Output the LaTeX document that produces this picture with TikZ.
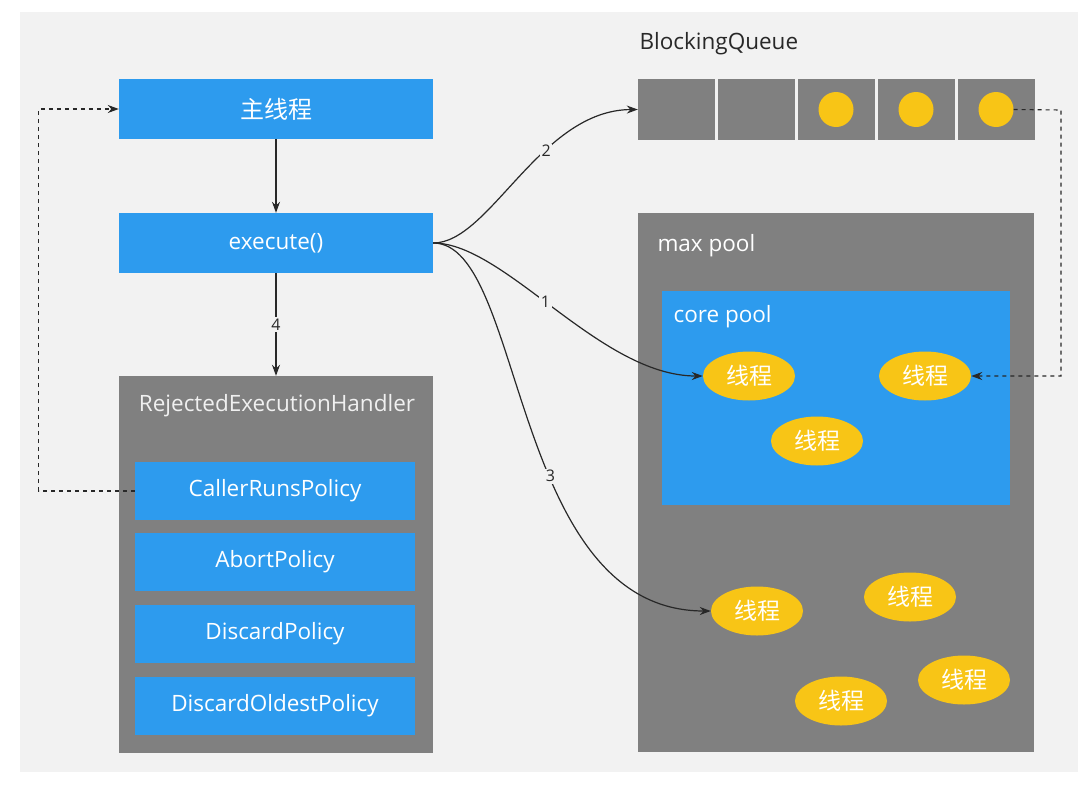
\documentclass[tikz,border=0pt]{standalone}
\usepackage{fontspec}
\setmainfont{Open Sans}
\newfontfamily\cjk{Noto Sans CJK SC}
\usetikzlibrary{arrows.meta,shapes.geometric,positioning,calc}

\definecolor{panelbg}{RGB}{242,242,242}
\definecolor{boxblue}{RGB}{45,155,238}
\definecolor{boxgray}{RGB}{128,128,128}
\definecolor{threadyellow}{RGB}{248,197,22}
\definecolor{linegray}{RGB}{40,40,40}

\begin{document}
\begin{tikzpicture}[x=1pt,y=-1pt,>={Stealth[length=11pt,width=8pt]},
    every node/.style={font=\fontsize{22.5}{27}\selectfont},
    bluebox/.style={fill=boxblue,text=white,inner sep=0pt,
        minimum width=314pt,minimum height=60pt},
    policybox/.style={fill=boxblue,text=white,inner sep=0pt,
        minimum width=280pt,minimum height=58pt},
    graybox/.style={fill=boxgray,inner sep=0pt},
    qcell/.style={fill=boxgray,inner sep=0pt,
        minimum width=77pt,minimum height=61pt},
    qdot/.style={circle,fill=threadyellow,inner sep=0pt,minimum size=35pt},
    thread/.style={ellipse,fill=threadyellow,text=white,inner sep=0pt,
        minimum width=92pt,minimum height=49pt,
        font=\cjk\fontsize{23}{27}\selectfont},
    flow/.style={->,line width=1.2pt,draw=linegray},
    back/.style={->,line width=1.1pt,draw=linegray,dash pattern=on 4pt off 4pt},
    steplabel/.style={fill=panelbg,text=linegray,inner sep=1.5pt,
        font=\fontsize{16}{19}\selectfont}]

  % Page and panel.
  \fill[white] (0,0) rectangle (1092,787);
  \fill[panelbg] (20,12) rectangle (1078,772);

  % Left column.
  \node[bluebox,font=\cjk\fontsize{24}{28}\selectfont] (mainthread)
      at (276,109) {主线程};
  \node[bluebox] (exec) at (276,243) {execute()};
  \node[graybox,minimum width=314pt,minimum height=377pt] (handler)
      at (276,564.5) {};
  \node[text=white!94!black] (handlertitle) at (277,406)
      {RejectedExecutionHandler};
  \foreach \i/\y/\txt in {
      1/491/CallerRunsPolicy,
      2/562/AbortPolicy,
      3/633.5/DiscardPolicy,
      4/705.5/DiscardOldestPolicy
  }{
      \node[policybox] (policy\i) at (275,\y) {\txt};
  }

  % Blocking queue.
  \node[anchor=west,text=linegray] (queuetitle) at (636,44) {BlockingQueue};
  \foreach \i/\x in {1/676.5,2/756.5,3/836,4/916,5/996}{
      \node[qcell] (q\i) at (\x,109.5) {};
  }
  \foreach \i in {3,4,5}{
      \node[qdot] (qdot\i) at (q\i) {};
  }

  % Thread pools.
  \node[graybox,minimum width=396pt,minimum height=539pt] (maxpool)
      at (836,482.5) {};
  \node[anchor=west,text=white] (maxtitle) at (654,246) {max pool};
  \node[fill=boxblue,inner sep=0pt,minimum width=348pt,minimum height=214pt]
      (corepool) at (836,398) {};
  \node[anchor=west,text=white] (coretitle) at (670,317) {core pool};

  \foreach \name/\x/\y in {
      core1/749/376,
      core2/925/376,
      core3/817/441,
      extra1/757/611,
      extra2/910/597,
      extra3/841/701,
      extra4/964/680
  }{
      \node[thread] (\name) at (\x,\y) {线程};
  }

  % Main flow.
  \draw[flow] (mainthread) -- (exec);
  \draw[flow] (exec) -- node[steplabel] {4} (handler);
  \draw[flow] (exec.east) .. controls (490,243) and (540,110) ..
      node[steplabel,pos=0.63] {2} (q1.west);
  \draw[flow] (exec.east) .. controls (505,243) and (600,376) ..
      node[steplabel,pos=0.46] {1} (core1.west);
  \draw[flow] (exec.east) .. controls (525,243) and (510,611) ..
      node[steplabel,pos=0.59] {3} (extra1.west);

  % Dashed returns.
  \coordinate (queueturn) at (1061,110);
  \draw[back] (qdot5.east) -- (queueturn) |- (core2.east);
  \coordinate (rejectturn) at ($(policy1.west)+(-96,0)$);
  \draw[back] (policy1.west) -- (rejectturn) |- (mainthread.west);
\end{tikzpicture}
\end{document}
